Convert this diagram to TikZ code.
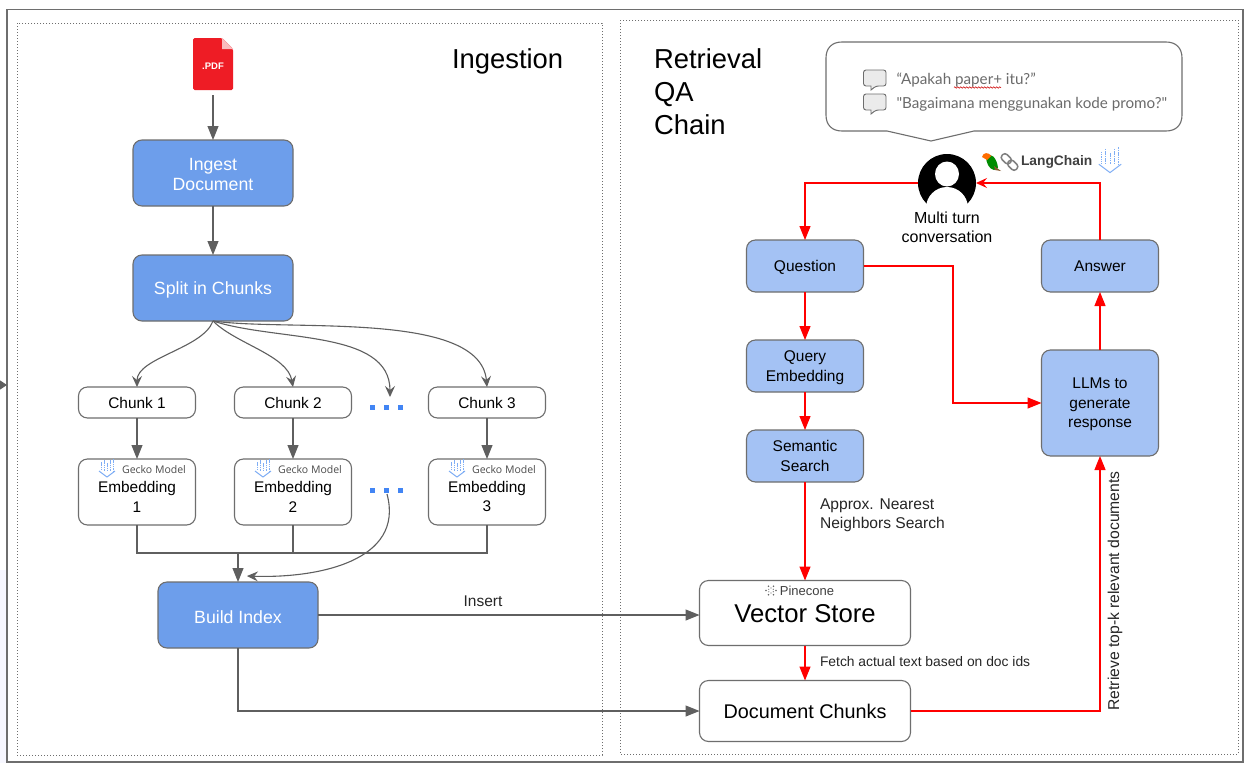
\documentclass[tikz,border=0pt]{standalone}
\usepackage{fontspec}
\setmainfont{Liberation Sans}
\newfontfamily\latofont{Lato}
\newfontfamily\opensansfont{Open Sans}
\usetikzlibrary{arrows.meta,calc,decorations.pathmorphing}
\definecolor{frame}{HTML}{6E6E6E}
\definecolor{edgegray}{HTML}{5F5F5F}
\definecolor{blueA}{HTML}{6D9EEB}
\definecolor{blueB}{HTML}{A4C2F4}
\definecolor{iconblue}{HTML}{7FAEF5}
\definecolor{dotblue}{HTML}{4285F4}
\definecolor{pdfred}{HTML}{EE1C25}
\newcommand{\fs}[2]{\fontsize{#1}{#2}\selectfont}
\newcommand{\dn}[1]{\raisebox{-1.7pt}[\height][\depth]{#1}}
\tikzset{
  x=1pt,y=-1pt,
  panel/.style={draw=frame,line width=1pt,dotted},
  boxbase/.style={draw=frame,line width=1.1pt,rounded corners=9pt,inner sep=0pt,outer sep=0pt,align=center},
  darkbox/.style={boxbase,fill=blueA,text=white,font=\fs{17.7}{20},minimum width=160pt,minimum height=66pt},
  lightbox/.style={boxbase,fill=blueB,text=black,font=\fs{15.5}{19.5},minimum width=117pt,minimum height=52pt},
  whitebox/.style={boxbase,fill=white,text=black,font=\fs{15.4}{19.5},minimum width=117pt},
  storebox/.style={boxbase,fill=white,text=black,minimum width=211pt},
  plain/.style={inner sep=0pt,outer sep=0pt},
  label/.style={plain,align=left,text=black!85},
  title/.style={plain,font=\fs{27.4}{33},align=left},
  gline/.style={draw=edgegray,line width=1.1pt},
  garrow/.style={gline,-{Triangle[length=14pt,width=11pt]}},
  gcurve/.style={gline,-{Stealth[length=11pt,width=10pt,inset=4pt]}},
  rline/.style={draw=red,line width=1.25pt},
  rarrow/.style={rline,-{Triangle[length=14pt,width=11pt]}},
  rbarb/.style={rline,-{Stealth[length=11pt,width=10pt,inset=4pt]}},
  dotmark/.style={fill=dotblue},
  gecko/.pic={
    \foreach \dx/\top in {-6/-6,-3/-8,0/-5,3/-8,6/-9}{
      \draw[iconblue,line width=.9pt,dash pattern=on 1.5pt off .8pt] (\dx,\top) -- (\dx,3);
    }
    \draw[iconblue,line width=1pt,line join=round] (-8,3) -- (0,9) -- (8,3);
  },
}
\begin{document}
\begin{tikzpicture}
\useasboundingbox (0,0) rectangle (1250,763);
\fill[white] (0,0) rectangle (1250,763);
\fill[blue!3] (0,570) rectangle (7,763);
% frame and panels
\draw[frame,line width=1.2pt] (7,9.5) rectangle (1243,762);
\draw[panel] (17,23) rectangle (602,755);
\draw[panel] (620,20) rectangle (1238,754);
\coordinate (edgeL) at (0,385);
\coordinate (edgeR) at (7,385);
\draw[edgegray,line width=1pt,-{Triangle[length=7pt,width=9pt]}] (edgeL) -- (edgeR);
% titles
\node[title,anchor=base west] (ingtitle) at (452,68) {Ingestion};
\node[title,anchor=north west] (rettitle) at (654,49) {Retrieval\\QA\\Chain};
% pdf
\node[plain,minimum width=40pt,minimum height=52pt] (pdf) at (213,64) {};
\fill[pdfred,rounded corners=1.5pt] (193,38) -- (222,38) -- (233,49) -- (233,90) -- (193,90) -- cycle;
\fill[white!70!pdfred] (222,38) -- (233,49) -- (222,49) -- cycle;
\node[plain,text=white,font=\bfseries\fs{9.5}{10}] (pdftext) at (213,66) {.PDF};
% left boxes
\node[darkbox] (ingest) at (213,173) {\dn{Ingest}\\\dn{Document}};
\node[darkbox] (split) at (213,288) {\dn{Split in Chunks}};
\node[whitebox,minimum height=31pt] (c1) at (137,402.5) {Chunk 1};
\node[whitebox,minimum height=31pt] (c2) at (293,402.5) {Chunk 2};
\node[whitebox,minimum height=31pt] (c3) at (487,402.5) {Chunk 3};
\node[whitebox,minimum height=66pt] (e1) at (137,492) {\\[1pt]Embedding\\1};
\node[whitebox,minimum height=66pt] (e2) at (293,492) {\\[1pt]Embedding\\2};
\node[whitebox,minimum height=66pt] (e3) at (487,492) {\\[1pt]Embedding\\3};
\node[darkbox] (build) at (238,615) {\dn{Build Index}};
% gecko labels
\foreach \n/\cx in {g1/137,g2/293,g3/487}{
  \pic at ($(\cx,468)+(-30,0)$) {gecko};
  \node[plain,font=\opensansfont\fs{10.5}{12},text=black!70] (\n) at ($(\cx,469.5)+(17,0)$) {Gecko Model};
}
% dots
\foreach \dy in {407,490}{
  \foreach \dx in {372,386,400}{
    \fill[dotmark] (\dx-2.5,\dy-2.5) rectangle (\dx+2.5,\dy+2.5);
  }
}
\coordinate (dotsA) at (390,397);
\coordinate (dotsB) at (387,494);
\coordinate (merge) at (238,553);
\coordinate (buildR) at (247,576);
% right boxes
\node[lightbox] (q) at (805,266) {\dn{Question}};
\node[lightbox] (qe) at (805,366) {\dn{Query}\\\dn{Embedding}};
\node[lightbox] (ss) at (805,456) {Semantic\\Search};
\node[lightbox] (ans) at (1100,266) {Answer};
\node[lightbox,minimum height=106pt] (llm) at (1100,403) {\dn{LLMs to}\\\dn{generate}\\\dn{response}};
\node[storebox,minimum height=65pt] (vs) at (805,613) {};
\node[plain,font=\fs{25.7}{30}] (vstext) at (805,614) {Vector Store};
\node[plain,font=\fs{13}{14},text=black!75] (pine) at (807,591) {Pinecone};
\foreach \a in {0,60,...,300}{
  \fill[black!60] ($(771,590.5)+(\a:5)$) circle (.9pt);
  \fill[black!60] ($(771,590.5)+(\a+30:2.5)$) circle (.6pt);
}
\node[storebox,minimum height=61pt,font=\fs{19.8}{22}] (dc) at (805,711) {Document Chunks};
% person
\coordinate (personL) at (918,183);
\coordinate (personR) at (976,183);
\begin{scope}
  \clip (915,150) rectangle (980,203);
  \fill[black] (947,183) circle (29pt);
  \fill[white] (947,174) ellipse (12pt and 12.5pt);
  \fill[white] (947,208) ellipse (21pt and 21pt);
\end{scope}
\node[plain,font=\fs{16}{19},align=center] (mt) at (947,227.5) {Multi turn\\conversation};
% speech bubble
\draw[frame,line width=1.1pt,fill=white] (842,42) -- (1166,42) .. controls (1176,42) and (1182,48) .. (1182,58) -- (1182,115) .. controls (1182,125) and (1176,131) .. (1166,131) -- (974,131) -- (931,141) -- (887,131) -- (842,131) .. controls (832,131) and (826,125) .. (826,115) -- (826,58) .. controls (826,48) and (832,42) .. (842,42) -- cycle;
\foreach \yy in {79,103}{
  \draw[frame,fill=black!8,line width=.9pt,rounded corners=2.5pt] (863.5,\yy-9) -- (886,\yy-9) -- (886,\yy+7) -- (876,\yy+7) [sharp corners] -- (871,\yy+11) -- (871,\yy+7) [rounded corners=2.5pt] -- (863.5,\yy+7) -- cycle;
}
\node[plain,anchor=base west,font=\latofont\fs{15.2}{18},text=black!58] (q1) at (896.5,84) {“Apakah paper+ itu?”};
\node[plain,anchor=base west,font=\latofont\fs{15.2}{18},text=black!58] (q2) at (896.5,108) {"Bagaimana menggunakan kode promo?"};
\draw[red!80!black,line width=.5pt,decorate,decoration={zigzag,segment length=3pt,amplitude=.8pt}] (954,87.5) -- (1001,87.5);
% langchain logos
\node[plain,font=\bfseries\fs{13.8}{15},text=black!75,anchor=west] (lc) at (1021,162) {LangChain};
\fill[green!55!black] (986,156) .. controls (991,152) and (997,158) .. (998,168) -- (994,170) .. controls (989,169) and (986,163) .. (986,156) -- cycle;
\fill[orange!85!red] (982,157) .. controls (983,152) and (989,152) .. (991,156) -- (987,160) -- cycle;
\fill[brown!70!black] (994,166) -- (1001,171) -- (995,170) -- cycle;
\draw[black!50,line width=1.5pt,rounded corners=3pt,rotate around={-45:(1009.5,162)}] (999.5,158.5) rectangle (1010.5,165.5);
\draw[black!50,line width=1.5pt,rounded corners=3pt,rotate around={-45:(1009.5,162)}] (1008.5,158.5) rectangle (1019.5,165.5);
\pic[scale=1.4] at (1110,160) {gecko};
% gray edges
\draw[garrow] (pdf.south)++(0,5) -- (ingest.north);
\draw[garrow] (ingest) -- (split);
\draw[gcurve] (split.south) to[out=-110,in=90,looseness=.75] (c1.north);
\draw[gcurve] (split.south) to[out=-45,in=100,looseness=.8] (c2.north);
\draw[gcurve] (split.south) to[out=-18,in=90,looseness=.9] (dotsA);
\draw[gcurve] (split.south) to[out=-8,in=95,looseness=.7] (c3.north);
\draw[garrow] (c1) -- (e1);
\draw[garrow] (c2) -- (e2);
\draw[garrow] (c3) -- (e3);
\draw[gline] (e1.south) |- (merge);
\draw[gline] (e2.south) |- (merge);
\draw[gline] (e3.south) |- (merge);
\draw[garrow] (merge) -- (build.north);
\draw[gcurve] (dotsB) to[out=-75,in=-2,looseness=1.1] (buildR);
\draw[garrow] (build.east) -- (build.east -| vs.west);
\node[plain,font=\fs{15.5}{16},text=black!85] (ins) at (483,601) {Insert};
\draw[garrow] (build.south) |- (dc.west);
% red edges
\draw[rarrow] (personL) -| (q.north);
\draw[rbarb] (ans.north) |- (personR);
\coordinate (qll) at (953,266);
\draw[rarrow] (q.east) -- (qll) |- (llm.west);
\draw[rarrow] (q) -- (qe);
\draw[rarrow] (qe) -- (ss);
\draw[rarrow] (ss) -- (vs);
\draw[rarrow] (vs) -- (dc);
\draw[rarrow] (llm) -- (ans);
\draw[rarrow] (dc.east) -| (llm.south);
% labels
\node[label,anchor=west,font=\fs{15.6}{19}] (nn) at (820,515) {Approx. Nearest\\Neighbors Search};
\node[label,anchor=west,font=\fs{13.85}{15}] (fetch) at (820,662) {Fetch actual text based on doc ids};
\node[label,rotate=90,font=\fs{15.7}{17}] (retr) at (1115,591) {Retrieve top-k relevant documents};
\end{tikzpicture}
\end{document}
